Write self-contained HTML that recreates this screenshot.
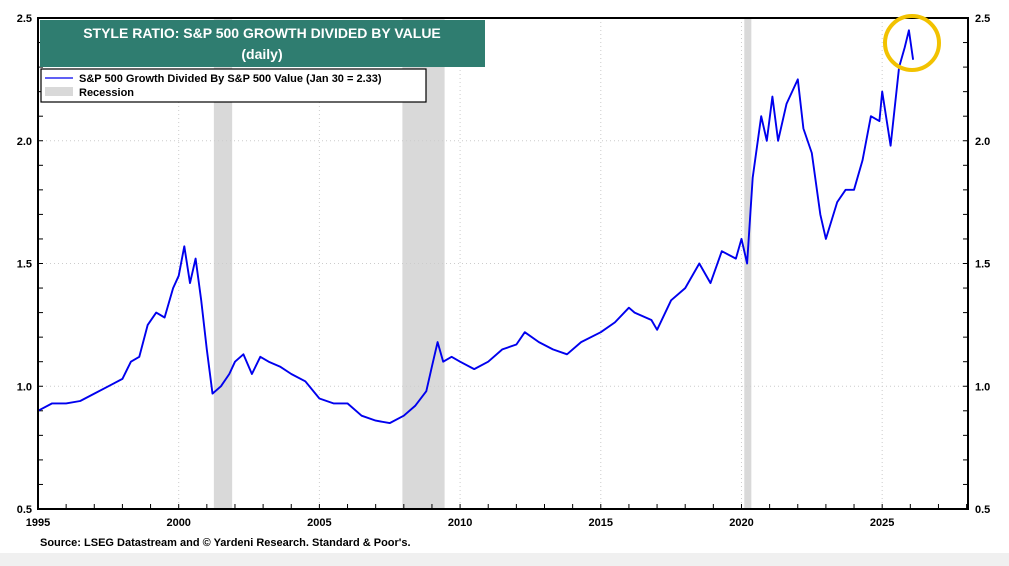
<!DOCTYPE html>
<html><head><meta charset="utf-8"><style>
body{margin:0;background:#f0f0f0;}
#wrap{position:absolute;left:0;top:0;width:1009px;height:553px;background:#fff;}
svg text{font-family:"Liberation Sans",Arial,sans-serif;font-weight:bold;}
</style></head><body>
<div id="wrap">
<svg id="c" width="1009" height="561"></svg>
</div>
<script>
const years=[1995,1995.5,1996,1996.5,1997,1997.5,1998,1998.3,1998.6,1998.9,1999.2,1999.5,1999.8,2000.0,2000.2,2000.4,2000.6,2000.8,2001.0,2001.2,2001.5,2001.8,2002.0,2002.3,2002.6,2002.9,2003.2,2003.6,2004.0,2004.5,2005.0,2005.5,2006.0,2006.5,2007.0,2007.5,2008.0,2008.4,2008.8,2009.0,2009.2,2009.4,2009.7,2010,2010.5,2011,2011.5,2012,2012.3,2012.8,2013.3,2013.8,2014.3,2015,2015.5,2016,2016.2,2016.8,2017,2017.5,2018,2018.5,2018.9,2019.3,2019.8,2020.0,2020.2,2020.4,2020.7,2020.9,2021.1,2021.3,2021.6,2022.0,2022.2,2022.5,2022.8,2023.0,2023.4,2023.7,2024.0,2024.3,2024.6,2024.9,2025.0,2025.3,2025.6,2025.8,2025.95,2026.1];
const ratio=[0.90,0.93,0.93,0.94,0.97,1.00,1.03,1.10,1.12,1.25,1.30,1.28,1.40,1.45,1.57,1.42,1.52,1.35,1.15,0.97,1.00,1.05,1.10,1.13,1.05,1.12,1.10,1.08,1.05,1.02,0.95,0.93,0.93,0.88,0.86,0.85,0.88,0.92,0.98,1.08,1.18,1.10,1.12,1.10,1.07,1.10,1.15,1.17,1.22,1.18,1.15,1.13,1.18,1.22,1.26,1.32,1.30,1.27,1.23,1.35,1.40,1.50,1.42,1.55,1.52,1.60,1.50,1.85,2.10,2.00,2.18,2.00,2.15,2.25,2.05,1.95,1.70,1.60,1.75,1.80,1.80,1.92,2.10,2.08,2.20,1.98,2.30,2.38,2.45,2.33];
const recessions=[[2001.25,2001.9],[2007.95,2009.45],[2020.1,2020.35]];
const xTicks=[1995,2000,2005,2010,2015,2020,2025];
const yTicks=[0.5,1.0,1.5,2.0,2.5];

const svg=document.getElementById('c');
const NS='http://www.w3.org/2000/svg';
const L=38,R=968,T=18,B=509,X0=1995,X1=2028.05,Y0=0.5,Y1=2.5;
const sx=v=>L+(v-X0)/(X1-X0)*(R-L);
const sy=v=>B-(v-Y0)/(Y1-Y0)*(B-T);
function mk(tag,attrs,parent){const e=document.createElementNS(NS,tag);for(const k in attrs)e.setAttribute(k,attrs[k]);(parent||svg).appendChild(e);return e;}

recessions.forEach(r=>{
 const e=mk('rect',{x:sx(r[0]),y:T,width:sx(r[1])-sx(r[0]),height:B-T,fill:'#d9d9d9'});
 
 
});
xTicks.forEach(t=>{
 const g=mk('line',{x1:sx(t),x2:sx(t),y1:T,y2:B,stroke:'#ccc','stroke-dasharray':'1,3'});
 
 
 const tx=mk('text',{x:sx(t),y:526,'text-anchor':'middle','font-size':11,fill:'#000'});
 tx.textContent=t;
 
 
});
for(let y=1995;y<=2028;y++){mk('line',{x1:sx(y),x2:sx(y),y1:B,y2:B-5,stroke:'#000'});}
yTicks.forEach(t=>{
 const g=mk('line',{x1:L,x2:R,y1:sy(t),y2:sy(t),stroke:'#ccc','stroke-dasharray':'1,3'});
 
 
 const a=mk('text',{x:32,y:sy(t)+4,'text-anchor':'end','font-size':11});
 a.textContent=t.toFixed(1);
 
 
 const b=mk('text',{x:975,y:sy(t)+4,'font-size':11});
 b.textContent=t.toFixed(1);
 
 
});
for(let v=0.5;v<=2.501;v+=0.1){mk('line',{x1:L,x2:L+5,y1:sy(v),y2:sy(v),stroke:'#000'});mk('line',{x1:R,x2:R-5,y1:sy(v),y2:sy(v),stroke:'#000'});}

const pts=years.map((y,i)=>sx(y).toFixed(1)+','+sy(ratio[i]).toFixed(1)).join(' ');
const line=mk('polyline',{points:pts,fill:'none',stroke:'#0000ee','stroke-width':1.9,'stroke-linejoin':'round'});



const frame=mk('rect',{x:L,y:T,width:R-L,height:B-T,fill:'none',stroke:'#000','stroke-width':2});



const circ=mk('ellipse',{cx:912,cy:43,rx:27,ry:27,fill:'none',stroke:'#f2c200','stroke-width':4});


</script>
<svg width="1009" height="561" style="position:absolute;left:0;top:0">
<rect x="40" y="20" width="445" height="47" fill="#2f7d70"/>
<text x="262" y="38" text-anchor="middle" font-size="14" fill="#fff">STYLE RATIO: S&amp;P 500 GROWTH DIVIDED BY VALUE</text>
<text x="262" y="59" text-anchor="middle" font-size="14" fill="#fff">(daily)</text>
<rect x="41" y="69" width="385" height="33" fill="#fff" stroke="#000" stroke-width="1.2"/>
<line x1="45" x2="73" y1="78" y2="78" stroke="#0000ee" stroke-width="1.3"/>
<text x="79" y="82" font-size="11">S&amp;P 500 Growth Divided By S&amp;P 500 Value (Jan 30 = 2.33)</text>
<rect x="45" y="87" width="28" height="9" fill="#d9d9d9"/>
<text x="79" y="96" font-size="11">Recession</text>
<text x="40" y="546" font-size="11">Source: LSEG Datastream and © Yardeni Research. Standard &amp; Poor's.</text>
</svg>
</body></html>
